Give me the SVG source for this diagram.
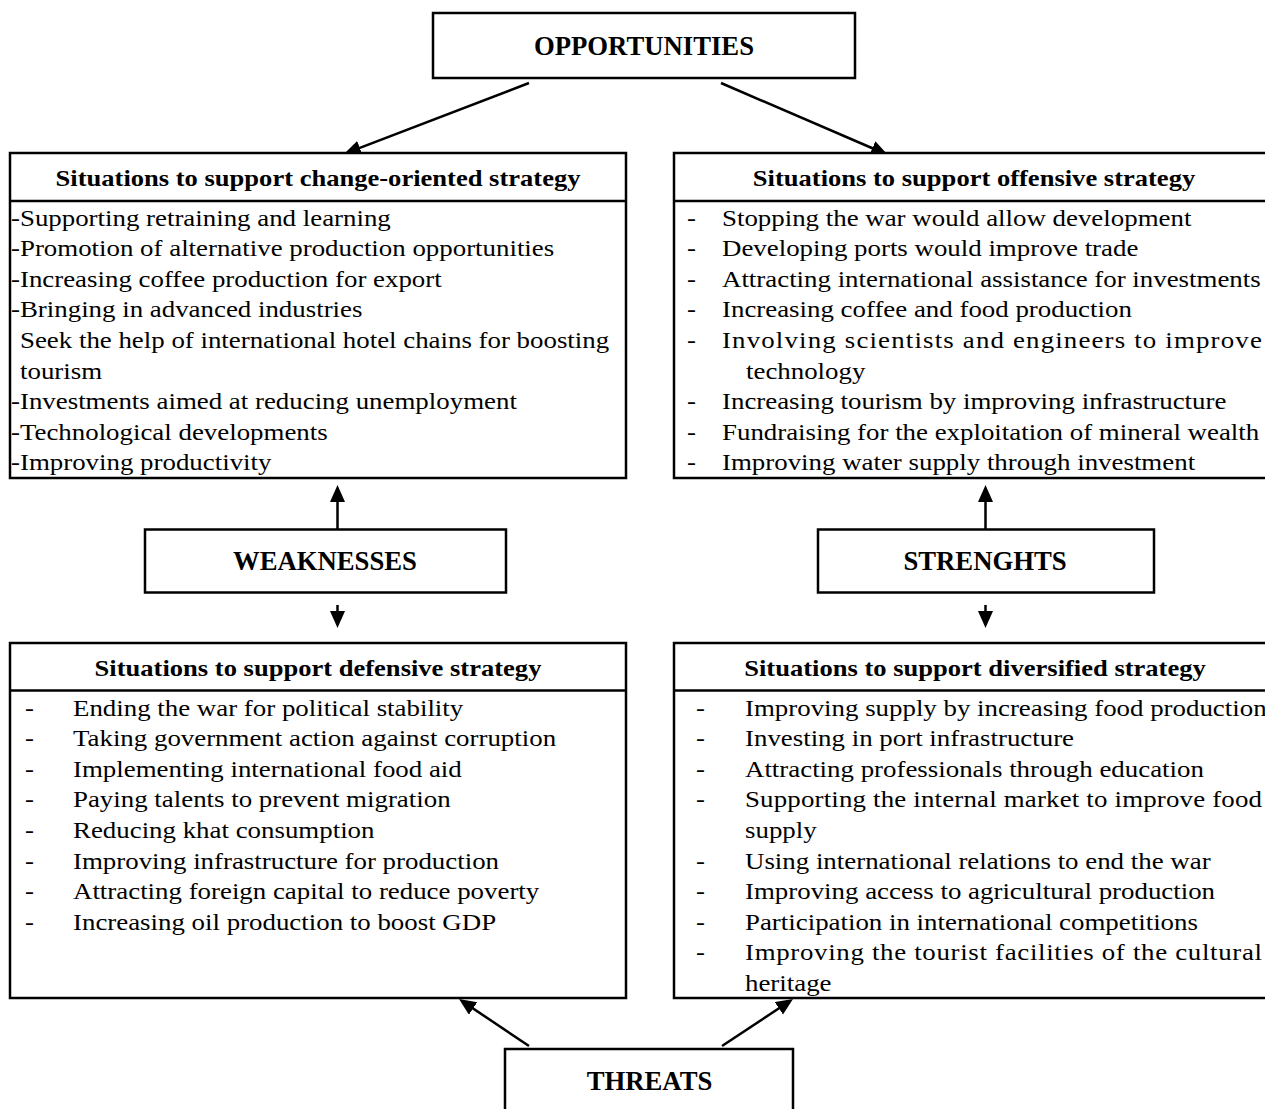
<svg xmlns="http://www.w3.org/2000/svg" width="1265" height="1109" viewBox="0 0 1265 1109">
<style>
.box{fill:#fff;stroke:#000;stroke-width:2.5}
.div{stroke:#000;stroke-width:2.5}
.lbl{font-family:"Liberation Serif","Times New Roman",serif;font-weight:bold;font-size:26.7px;text-anchor:middle;fill:#000}
.hd{font-family:"Liberation Serif","Times New Roman",serif;font-weight:bold;font-size:23.5px;text-anchor:middle;fill:#000}
.tx{font-family:"Liberation Serif","Times New Roman",serif;font-size:24px;fill:#000}
.con{stroke:#000;stroke-width:2.5;fill:none;marker-end:url(#ah)}
</style>
<defs>
<marker id="ah" markerUnits="userSpaceOnUse" markerWidth="18" markerHeight="16" refX="7" refY="7.5" orient="auto">
<path d="M0,0 L17,7.5 L0,15 z" fill="#000"/>
</marker>
</defs>
<rect width="1265" height="1109" fill="#fff"/>

<g id="connectors">
<line class="con" x1="529" y1="83" x2="353.3" y2="150.4"/>
<line class="con" x1="721" y1="83" x2="878.8" y2="151"/>
<line class="con" x1="337.5" y1="532" x2="337.5" y2="495"/>
<line class="con" x1="337.5" y1="605" x2="337.5" y2="618"/>
<line class="con" x1="985.5" y1="532" x2="985.5" y2="495"/>
<line class="con" x1="985.5" y1="605" x2="985.5" y2="618"/>
<line class="con" x1="529" y1="1046" x2="467.3" y2="1004.6"/>
<line class="con" x1="722" y1="1046" x2="784.7" y2="1004.5"/>
</g>

<g id="opportunities">
<rect class="box" x="433" y="13" width="422" height="65"/>
<text class="lbl" x="644" y="55">OPPORTUNITIES</text>
</g>

<g id="weaknesses">
<rect class="box" x="145" y="529.5" width="361" height="63"/>
<text class="lbl" x="325" y="570">WEAKNESSES</text>
</g>

<g id="strengths">
<rect class="box" x="818" y="529.5" width="336" height="63"/>
<text class="lbl" x="985" y="570">STRENGHTS</text>
</g>

<g id="threats">
<rect class="box" x="505" y="1049" width="288" height="80"/>
<text class="lbl" x="649.5" y="1090">THREATS</text>
</g>

<g id="box-change">
<rect class="box" x="10" y="153" width="616" height="325"/>
<line class="div" x1="10" y1="201" x2="626" y2="201"/>
<text class="hd" transform="translate(318,186) scale(1.13,1)">Situations to support change-oriented strategy</text>
<text class="tx" transform="translate(11,225.5) scale(1.12,1)">-Supporting retraining and learning</text>
<text class="tx" transform="translate(11,256.1) scale(1.12,1)">-Promotion of alternative production opportunities</text>
<text class="tx" transform="translate(11,286.7) scale(1.12,1)">-Increasing coffee production for export</text>
<text class="tx" transform="translate(11,317.3) scale(1.12,1)">-Bringing in advanced industries</text>
<text class="tx" transform="translate(20,347.9) scale(1.12,1)" textLength="526" lengthAdjust="spacing">Seek the help of international hotel chains for boosting</text>
<text class="tx" transform="translate(20,378.5) scale(1.12,1)">tourism</text>
<text class="tx" transform="translate(11,409.1) scale(1.12,1)">-Investments aimed at reducing unemployment</text>
<text class="tx" transform="translate(11,439.7) scale(1.12,1)">-Technological developments</text>
<text class="tx" transform="translate(11,470.3) scale(1.12,1)">-Improving productivity</text>
</g>

<g id="box-offensive">
<rect class="box" x="674" y="153" width="600" height="325"/>
<line class="div" x1="674" y1="201" x2="1265" y2="201"/>
<text class="hd" transform="translate(974,186) scale(1.13,1)">Situations to support offensive strategy</text>
<g class="tx">
<text transform="translate(687,225.5) scale(1.12,1)">-</text>
<text transform="translate(687,256.1) scale(1.12,1)">-</text>
<text transform="translate(687,286.7) scale(1.12,1)">-</text>
<text transform="translate(687,317.3) scale(1.12,1)">-</text>
<text transform="translate(687,347.9) scale(1.12,1)">-</text>
<text transform="translate(687,409.1) scale(1.12,1)">-</text>
<text transform="translate(687,439.7) scale(1.12,1)">-</text>
<text transform="translate(687,470.3) scale(1.12,1)">-</text>
<text transform="translate(722,225.5) scale(1.12,1)">Stopping the war would allow development</text>
<text transform="translate(722,256.1) scale(1.12,1)">Developing ports would improve trade</text>
<text transform="translate(722,286.7) scale(1.12,1)">Attracting international assistance for investments</text>
<text transform="translate(722,317.3) scale(1.12,1)">Increasing coffee and food production</text>
<text transform="translate(722,347.9) scale(1.12,1)" textLength="482" lengthAdjust="spacing">Involving scientists and engineers to improve</text>
<text transform="translate(746,378.5) scale(1.12,1)">technology</text>
<text transform="translate(722,409.1) scale(1.12,1)">Increasing tourism by improving infrastructure</text>
<text transform="translate(722,439.7) scale(1.12,1)">Fundraising for the exploitation of mineral wealth</text>
<text transform="translate(722,470.3) scale(1.12,1)">Improving water supply through investment</text>
</g>
</g>

<g id="box-defensive">
<rect class="box" x="10" y="643" width="616" height="355"/>
<line class="div" x1="10" y1="690.5" x2="626" y2="690.5"/>
<text class="hd" transform="translate(318,676) scale(1.13,1)">Situations to support defensive strategy</text>
<g class="tx">
<text transform="translate(25,715.5) scale(1.12,1)">-</text>
<text transform="translate(25,746.1) scale(1.12,1)">-</text>
<text transform="translate(25,776.7) scale(1.12,1)">-</text>
<text transform="translate(25,807.3) scale(1.12,1)">-</text>
<text transform="translate(25,837.9) scale(1.12,1)">-</text>
<text transform="translate(25,868.5) scale(1.12,1)">-</text>
<text transform="translate(25,899.1) scale(1.12,1)">-</text>
<text transform="translate(25,929.7) scale(1.12,1)">-</text>
<text transform="translate(73,715.5) scale(1.12,1)">Ending the war for political stability</text>
<text transform="translate(73,746.1) scale(1.12,1)">Taking government action against corruption</text>
<text transform="translate(73,776.7) scale(1.12,1)">Implementing international food aid</text>
<text transform="translate(73,807.3) scale(1.12,1)">Paying talents to prevent migration</text>
<text transform="translate(73,837.9) scale(1.12,1)">Reducing khat consumption</text>
<text transform="translate(73,868.5) scale(1.12,1)">Improving infrastructure for production</text>
<text transform="translate(73,899.1) scale(1.12,1)">Attracting foreign capital to reduce poverty</text>
<text transform="translate(73,929.7) scale(1.12,1)">Increasing oil production to boost GDP</text>
</g>
</g>

<g id="box-diversified">
<rect class="box" x="674" y="643" width="600" height="355"/>
<line class="div" x1="674" y1="690.5" x2="1265" y2="690.5"/>
<text class="hd" transform="translate(975,676) scale(1.13,1)">Situations to support diversified strategy</text>
<g class="tx">
<text transform="translate(696,715.5) scale(1.12,1)">-</text>
<text transform="translate(696,746.1) scale(1.12,1)">-</text>
<text transform="translate(696,776.7) scale(1.12,1)">-</text>
<text transform="translate(696,807.3) scale(1.12,1)">-</text>
<text transform="translate(696,868.5) scale(1.12,1)">-</text>
<text transform="translate(696,899.1) scale(1.12,1)">-</text>
<text transform="translate(696,929.7) scale(1.12,1)">-</text>
<text transform="translate(696,960.3) scale(1.12,1)">-</text>
<text transform="translate(745,715.5) scale(1.12,1)">Improving supply by increasing food production</text>
<text transform="translate(745,746.1) scale(1.12,1)">Investing in port infrastructure</text>
<text transform="translate(745,776.7) scale(1.12,1)">Attracting professionals through education</text>
<text transform="translate(745,807.3) scale(1.12,1)" textLength="461.6" lengthAdjust="spacing">Supporting the internal market to improve food</text>
<text transform="translate(745,837.9) scale(1.12,1)">supply</text>
<text transform="translate(745,868.5) scale(1.12,1)">Using international relations to end the war</text>
<text transform="translate(745,899.1) scale(1.12,1)">Improving access to agricultural production</text>
<text transform="translate(745,929.7) scale(1.12,1)">Participation in international competitions</text>
<text transform="translate(745,960.3) scale(1.12,1)" textLength="461.6" lengthAdjust="spacing">Improving the tourist facilities of the cultural</text>
<text transform="translate(745,990.9) scale(1.12,1)">heritage</text>
</g>
</g>
</svg>
